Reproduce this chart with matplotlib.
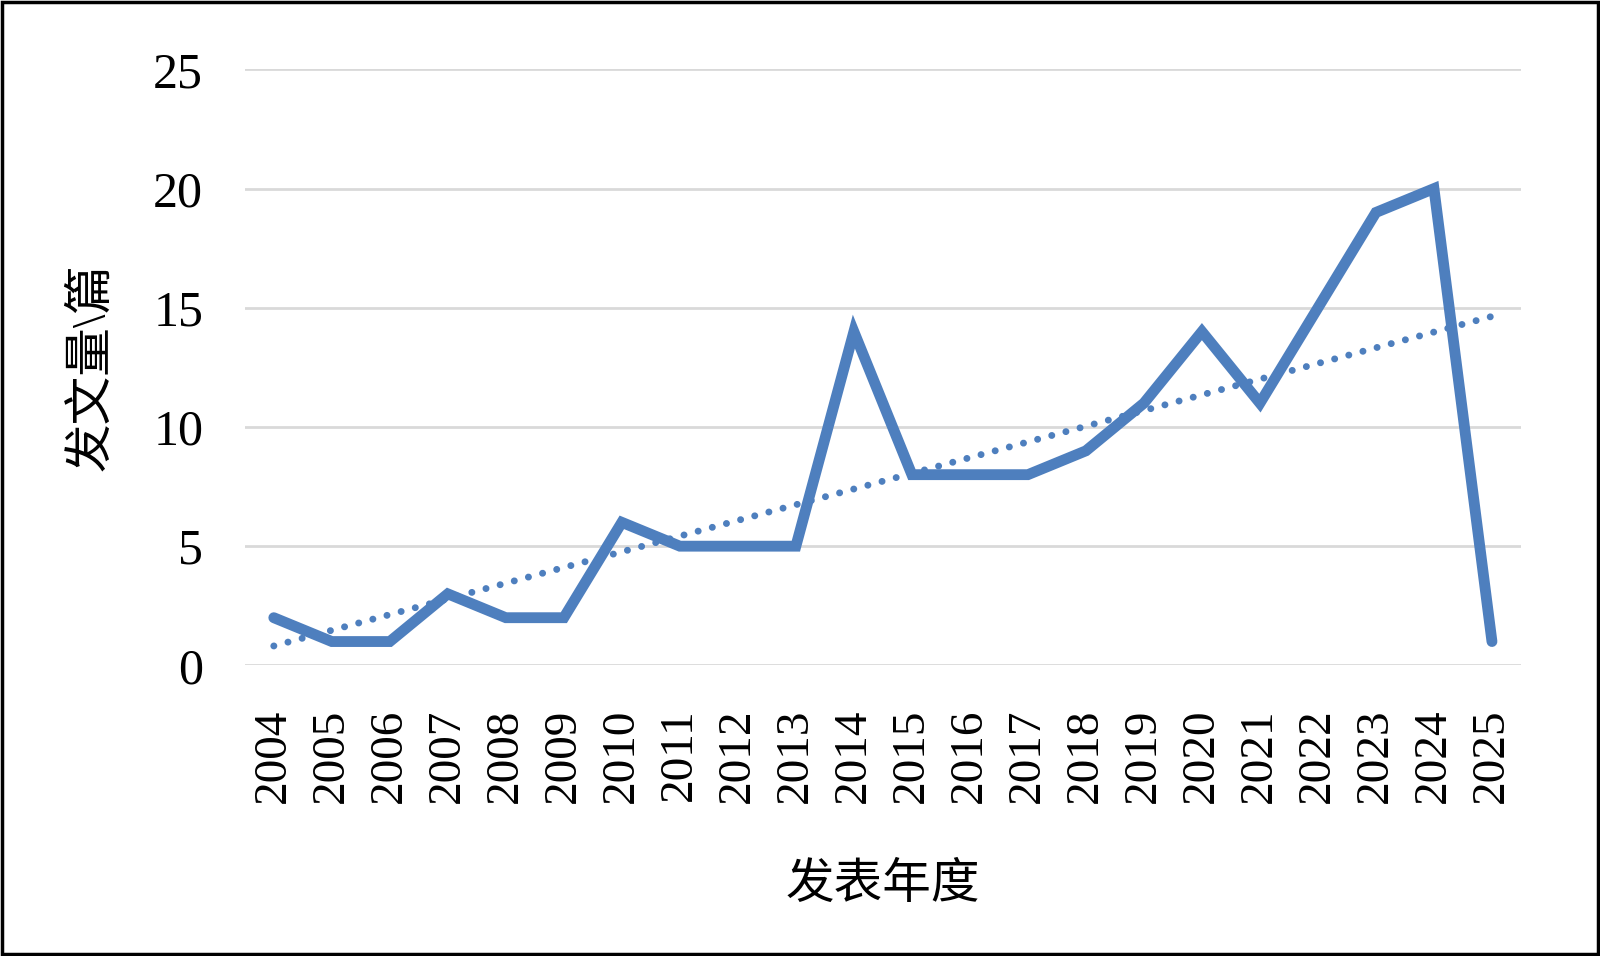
import matplotlib
matplotlib.use("Agg")
import matplotlib.pyplot as plt
import numpy as np
from matplotlib.patches import Rectangle

years = ["2004", "2005", "2006", "2007", "2008", "2009", "2010", "2011", "2012", "2013", "2014",
         "2015", "2016", "2017", "2018", "2019", "2020", "2021", "2022", "2023", "2024", "2025"]
counts = [2, 1, 1, 3, 2, 2, 6, 5, 5, 5, 14, 8, 8, 8, 9, 11, 14, 11, 15, 19, 20, 1]
y_ticks = [0, 5, 10, 15, 20, 25]
x_label = "发表年度"
y_label = "发文量\\篇"

plt.rcParams['font.family'] = ['Liberation Serif', 'Noto Sans CJK SC']

fig = plt.figure(figsize=(16, 9.56), dpi=100)
ax = fig.add_axes([0.153, 0.304, 0.7976, 0.6234])

x = np.arange(len(years))
color = "#4E7FBE"

ax.plot(x, counts, color=color, lw=7.8, solid_capstyle='round', solid_joinstyle='miter', zorder=3)

# linear trendline (as Excel computes it)
coef = np.polyfit(x, counts, 1)
trend = np.polyval(coef, x)
ax.plot(x, trend, color=color, lw=5.0, linestyle=(0, (0.01, 2.1)), dash_capstyle='round', zorder=4)

ax.set_xlim(-0.5, len(years) - 0.5)
ax.set_ylim(0, 25)
ax.set_yticks(y_ticks)
ax.set_yticklabels([str(v) for v in y_ticks], fontsize=36)
ax.set_xticks(x)
ax.set_xticklabels(years, rotation=90, fontsize=34)
ax.tick_params(axis='both', length=0)
ax.tick_params(axis='y', pad=30)
ax.tick_params(axis='x', pad=31)

ax.grid(axis='y', color='#D9D9D9', lw=2)
ax.set_axisbelow(True)
for s in ax.spines.values():
    s.set_visible(False)

ax.set_xlabel(x_label, fontsize=35, labelpad=43)
ax.set_ylabel(y_label, fontsize=35, labelpad=28)

fig.patches.append(Rectangle((0.0015, 0.0025), 0.997, 0.995, transform=fig.transFigure,
                             fill=False, edgecolor='black', lw=2.5))

fig.savefig("out.png", dpi=100)
